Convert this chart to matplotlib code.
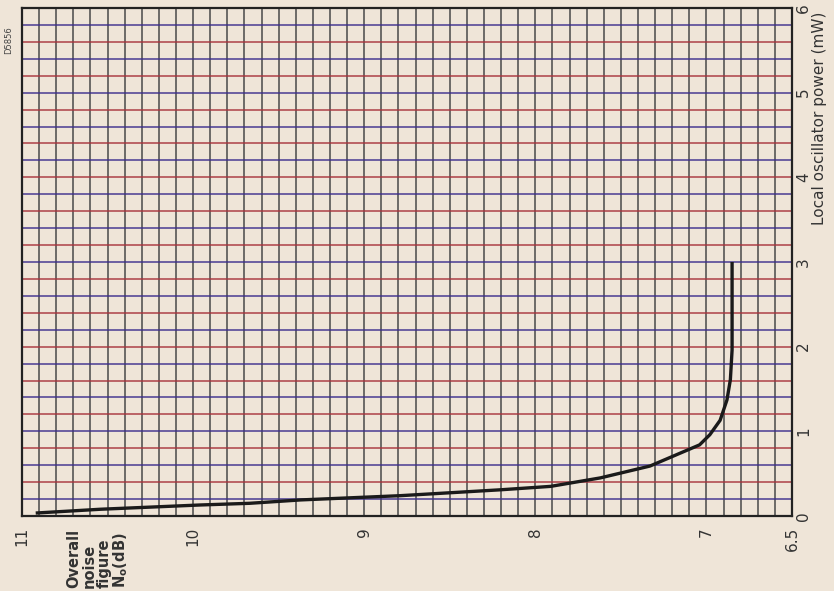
import numpy as np
import matplotlib.pyplot as plt

# curve: overall noise figure (dB) vs local oscillator power (mW)
noise_db = [10.92, 10.54, 9.96, 9.67, 9.37, 8.79, 8.20, 7.91, 7.62, 7.33,
            7.04, 6.98, 6.92, 6.88, 6.87, 6.86, 6.85, 6.85]
power_mw = [0.035, 0.08, 0.13, 0.15, 0.19, 0.24, 0.31, 0.35, 0.45, 0.59,
            0.84, 0.96, 1.13, 1.37, 1.49, 1.61, 1.96, 3.0]

noise_ticks = [11, 10, 9, 8, 7, 6.5]
noise_labels = ['11', '10', '9', '8', '7', '6.5']
power_ticks = [0, 1, 2, 3, 4, 5, 6]

paper = '#efe5d8'

fig = plt.figure(figsize=(8.34, 5.91), dpi=100)
fig.patch.set_facecolor(paper)
ax = fig.add_axes([0.0264, 0.1269, 0.9232, 0.8596])
ax.set_facecolor(paper)

# chart is printed turned on its side: noise figure runs left->right (11 .. 6.5),
# oscillator power runs bottom->top (0 .. 6)
ax.set_xlim(11, 6.5)
ax.set_ylim(0, 6)

# graph paper grid
for v in np.arange(6.6, 11.0, 0.1):
    ax.axvline(v, color='#4a4a4a', lw=1.3, alpha=0.85, zorder=1)
line_cols = ['#3b2d8c', '#a8323a']
for i, h in enumerate(np.arange(0.2, 6.0, 0.2)):
    ax.axhline(h, color=line_cols[i % 2], lw=1.2, alpha=0.85, zorder=1)

ax.plot(noise_db, power_mw, color='#1a1a1a', lw=2.4, zorder=3,
        solid_capstyle='butt')

for s in ax.spines.values():
    s.set_color('#222222')
    s.set_linewidth(1.6)

ax.set_xticks(noise_ticks)
ax.set_xticklabels(noise_labels, rotation=90, fontsize=11, color='#333333')
ax.yaxis.tick_right()
ax.set_yticks(power_ticks)
ax.set_yticklabels([str(p) for p in power_ticks], rotation=90, fontsize=11,
                   color='#333333', va='center')
ax.tick_params(axis='x', length=0, pad=8)
ax.tick_params(axis='y', length=0, pad=3)

fig.text(0.983, 0.80, 'Local oscillator power (mW)', rotation=90,
         fontsize=11, color='#333333', ha='center', va='center')
fig.text(0.080, 0.005, 'Overall\nnoise\nfigure\nN$_\\mathregular{o}$(dB)',
         rotation=90, fontsize=10.5, fontweight='bold', color='#333333',
         ha='left', va='bottom', multialignment='left', linespacing=1.0)
fig.text(0.005, 0.955, 'D5856', rotation=90, fontsize=6, color='#444444',
         ha='left', va='top')

plt.savefig('out.png', dpi=100, facecolor=paper)
